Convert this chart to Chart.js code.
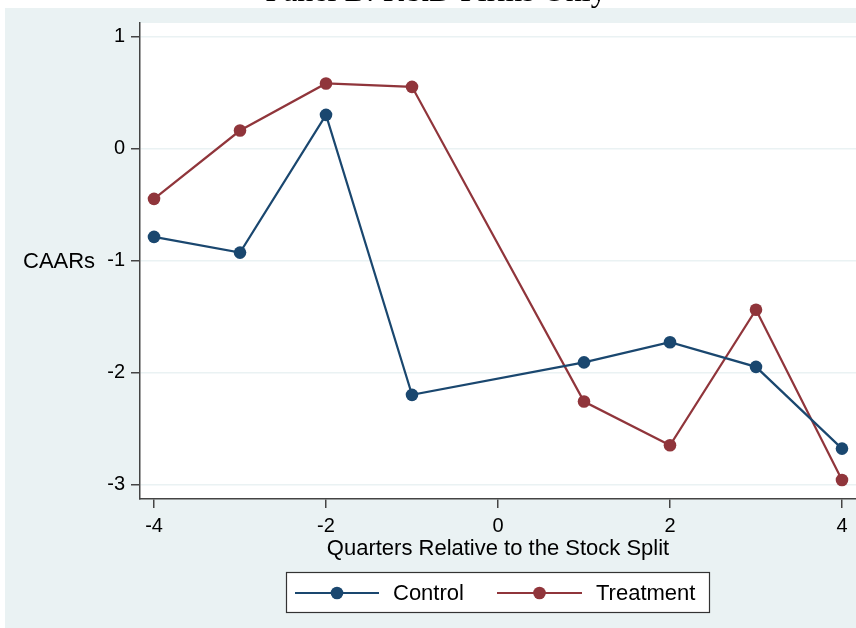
<!DOCTYPE html>
<html>
<head>
<meta charset="utf-8">
<title>Panel B: R&amp;D Firms Only</title>
<script src="https://cdn.jsdelivr.net/npm/chart.js@4.4.1/dist/chart.umd.min.js"></script>
<style>
  html, body { margin: 0; padding: 0; background: #fff; }
  #wrap { width: 856px; height: 628px; }
</style>
</head>
<body>
<div id="wrap"><canvas id="myChart"></canvas></div>
<script>
// Quarters relative to the split (no observation at 0)
var quarters = [-4, -3, -2, -1, 1, 2, 3, 4];
var controlCaar = [-0.79, -0.93, 0.30, -2.20, -1.91, -1.73, -1.95, -2.68];
var treatmentCaar = [-0.45, 0.16, 0.58, 0.55, -2.26, -2.65, -1.44, -2.96];
var xTicks = [-4, -2, 0, 2, 4];
var yTicks = [-3, -2, -1, 0, 1];
var seriesNames = ['Control', 'Treatment'];
var seriesColors = ['#1a476f', '#90353b'];

var FONT = '"Liberation Sans", Arial, sans-serif';
var BG = '#eaf2f3';

function toPoints(values) {
  return quarters.map(function (q, i) { return { x: q, y: values[i] }; });
}

// backdrop, cut-off panel title, horizontal y title and the boxed legend
var decorPlugin = {
  id: 'decor',
  beforeDraw: function (chart) {
    var ctx = chart.ctx, a = chart.chartArea;
    ctx.save();
    ctx.fillStyle = '#fff';
    ctx.fillRect(0, 0, chart.width, chart.height);
    ctx.fillStyle = BG;
    ctx.fillRect(5, 8, chart.width - 5, chart.height - 8);
    ctx.fillStyle = '#fff';
    ctx.fillRect(a.left, a.top, a.right - a.left, a.bottom - a.top);
    ctx.restore();
  },
  afterDraw: function (chart) {
    var ctx = chart.ctx;
    ctx.save();
    // panel title, mostly outside the picture
    ctx.fillStyle = '#000';
    ctx.font = '32px "Liberation Serif", "Times New Roman", serif';
    ctx.textAlign = 'center';
    ctx.textBaseline = 'alphabetic';
    ctx.fillText('Panel B: R&D Firms Only', 436, 1);

    // y title, level with the -1 tick
    ctx.font = '22px ' + FONT;
    ctx.textAlign = 'left';
    ctx.textBaseline = 'middle';
    ctx.fillStyle = '#000';
    ctx.fillText('CAARs', 23, chart.scales.y.getPixelForValue(-1) + 1);

    // legend
    ctx.fillStyle = '#fff';
    ctx.fillRect(286, 572, 424, 41);
    ctx.strokeStyle = '#333';
    ctx.lineWidth = 1.2;
    ctx.strokeRect(286.5, 572.5, 423, 40);
    var items = [
      { x0: 295, x1: 379, tx: 393 },
      { x0: 497, x1: 582, tx: 596 }
    ];
    var ly = 593;
    items.forEach(function (it, i) {
      ctx.strokeStyle = seriesColors[i];
      ctx.lineWidth = 2;
      ctx.beginPath();
      ctx.moveTo(it.x0, ly);
      ctx.lineTo(it.x1, ly);
      ctx.stroke();
      ctx.fillStyle = seriesColors[i];
      ctx.beginPath();
      ctx.arc((it.x0 + it.x1) / 2, ly, 6.3, 0, Math.PI * 2);
      ctx.fill();
      ctx.fillStyle = '#000';
      ctx.font = '22px ' + FONT;
      ctx.textAlign = 'left';
      ctx.textBaseline = 'middle';
      ctx.fillText(seriesNames[i], it.tx, ly + 1);
    });
    ctx.restore();
  }
};

function makeDataset(label, values, color) {
  return {
    label: label,
    data: toPoints(values),
    borderColor: color,
    backgroundColor: color,
    borderWidth: 2.2,
    pointRadius: 6.3,
    pointHoverRadius: 6.3,
    pointBorderWidth: 0,
    tension: 0,
    fill: false,
    clip: false
  };
}

var ctx = document.getElementById('myChart').getContext('2d');
var myChart = new Chart(ctx, {
  type: 'line',
  data: {
    datasets: [
      makeDataset(seriesNames[0], controlCaar, seriesColors[0]),
      makeDataset(seriesNames[1], treatmentCaar, seriesColors[1])
    ]
  },
  options: {
    responsive: true,
    maintainAspectRatio: false,
    animation: false,
    layout: { autoPadding: false, padding: { top: 23, right: 0, bottom: 59, left: 0 } },
    plugins: {
      legend: { display: false },
      tooltip: { enabled: false }
    },
    scales: {
      x: {
        type: 'linear',
        min: -4.163,
        max: 4.163,
        afterBuildTicks: function (s) { s.ticks = xTicks.map(function (v) { return { value: v }; }); },
        afterFit: function (s) { s.height = 70; s.paddingLeft = 0; s.paddingRight = 0; },
        grid: { drawOnChartArea: false, tickColor: '#444', tickLength: 9, lineWidth: 1.5 },
        border: { color: '#444', width: 1.5 },
        ticks: { color: '#000', font: { family: FONT, size: 20 }, padding: 6, maxRotation: 0 },
        title: {
          display: true,
          text: 'Quarters Relative to the Stock Split',
          color: '#000',
          font: { family: FONT, size: 22 },
          padding: { top: 0, bottom: 7 }
        }
      },
      y: {
        type: 'linear',
        min: -3.13,
        max: 1.12,
        afterBuildTicks: function (s) { s.ticks = yTicks.map(function (v) { return { value: v }; }); },
        afterFit: function (s) { s.width = 140; s.paddingTop = 0; s.paddingBottom = 0; },
        grid: { color: BG, lineWidth: 1.5, tickColor: '#444', tickLength: 9 },
        border: { color: '#444', width: 1.5 },
        ticks: { color: '#000', font: { family: FONT, size: 20 }, padding: 6 }
      }
    }
  },
  plugins: [decorPlugin]
});
</script>
</body>
</html>
